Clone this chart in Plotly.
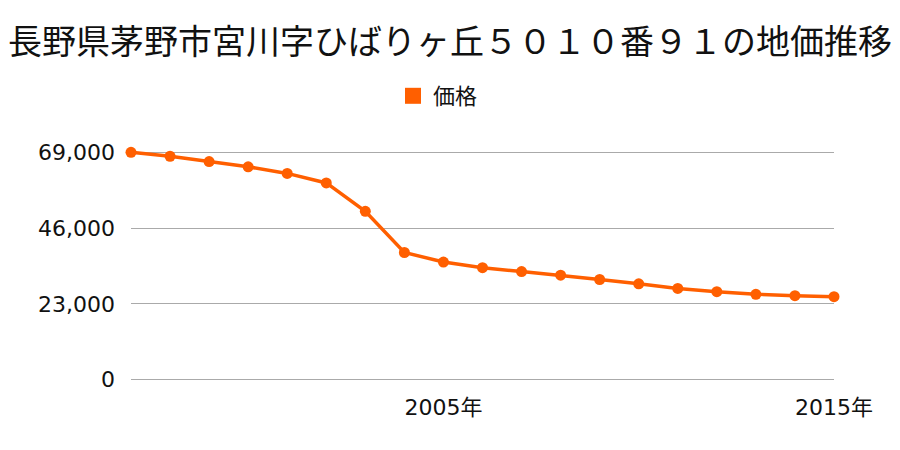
import plotly.graph_objects as go

years = [1997, 1998, 1999, 2000, 2001, 2002, 2003, 2004, 2005, 2006,
         2007, 2008, 2009, 2010, 2011, 2012, 2013, 2014, 2015]
prices = [69000, 67800, 66200, 64600, 62600, 59700, 51100, 38600, 35700, 34000,
          32800, 31700, 30400, 29100, 27700, 26700, 25900, 25500, 25200]
y_ticks = [0, 23000, 46000, 69000]
y_ticktext = ["0", "23,000", "46,000", "69,000"]
x_ticks = [2005, 2015]
x_ticktext = ["2005年", "2015年"]

title = "長野県茅野市宮川字ひばりヶ丘５０１０番９１の地価推移"
series_name = "価格"
color = "#ff5f00"
cjk_font = "Noto Sans CJK JP, sans-serif"
num_font = "DejaVu Sans, Noto Sans CJK JP, sans-serif"

fig = go.Figure()
fig.add_trace(go.Scatter(
    x=years, y=prices, mode="lines+markers", name=series_name,
    line=dict(color=color, width=3.5),
    marker=dict(color=color, size=11),
    cliponaxis=False, showlegend=False,
))
# legend-only entry with square swatch
fig.add_trace(go.Scatter(
    x=[None], y=[None], mode="markers", name=series_name,
    marker=dict(color=color, size=22, symbol="square"),
    showlegend=True,
))

fig.update_layout(
    width=900, height=450,
    margin=dict(l=131, r=66, t=150, b=68),
    paper_bgcolor="white", plot_bgcolor="white",
    font=dict(family=cjk_font, color="#111111"),
    title=dict(text=title, x=0.5, xanchor="center", y=1 - 42 / 450, yanchor="middle",
               font=dict(size=34, color="#111111", family=cjk_font)),
    showlegend=True,
    legend=dict(orientation="h", x=438 / 900, xref="container", xanchor="center",
                y=1 - 96 / 450, yref="container", yanchor="middle",
                font=dict(size=22, family=cjk_font), itemsizing="trace",
                bgcolor="rgba(0,0,0,0)"),
    xaxis=dict(range=[1997, 2015], tickvals=x_ticks, ticktext=x_ticktext,
               showgrid=False, zeroline=False, showline=False, ticks="",
               tickfont=dict(size=22, family=num_font), ticklabelstandoff=10),
    yaxis=dict(range=[-700, 69700], tickvals=y_ticks, ticktext=y_ticktext,
               showgrid=True, gridcolor="#aaaaaa", gridwidth=1, zeroline=False,
               showline=False, ticks="", tickfont=dict(size=22, family=num_font),
               ticklabelstandoff=15),
)

fig.write_html("out.html")
